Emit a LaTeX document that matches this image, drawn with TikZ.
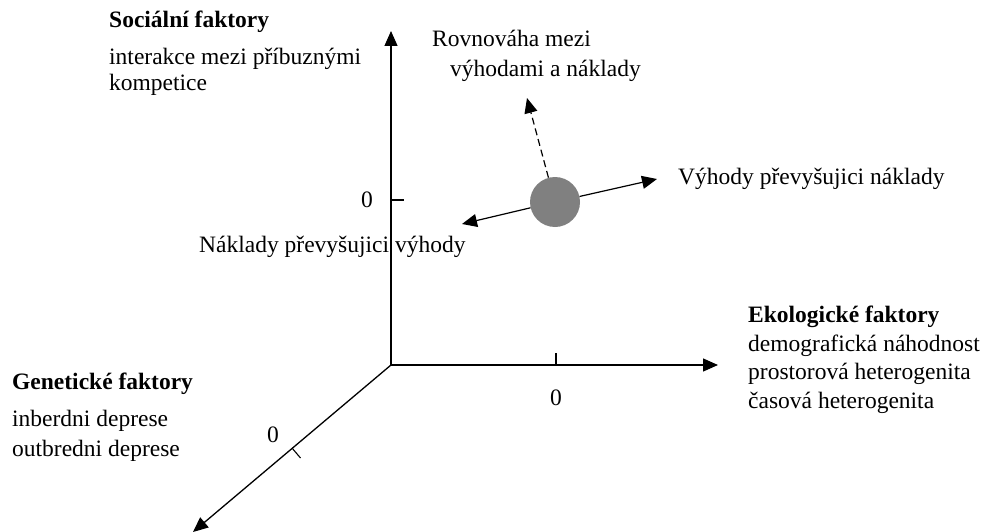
\documentclass[tikz,border=0pt]{standalone}
\usepackage{fontspec}
\setmainfont{Liberation Serif}
\usetikzlibrary{arrows.meta}

\begin{document}
\begin{tikzpicture}[x=1pt, y=-1pt, font=\fontsize{23.5}{28}\selectfont,
	axis/.style={line width=1.3pt, -{Triangle[width=13pt, length=15pt]}},
	tickmark/.style={line width=1.1pt},
	txt/.style={anchor=base west, inner sep=0pt},
	listtxt/.style={txt, align=left},
	zero/.style={inner sep=0pt}]
	\useasboundingbox (0, 0) rectangle (987, 532);
	% Axes and ticks:
	\coordinate (O) at (391, 365);
	\coordinate (social) at (391, 31);
	\coordinate (eco) at (718, 365);
	\coordinate (gen) at (193, 532);
	\draw[axis] (O) -- (social);
	\draw[axis] (O) -- (eco);
	\draw[axis] (O) -- (gen);
	\draw[tickmark] (391, 200) -- (404, 200);
	\draw[tickmark] (556, 365) -- (556, 353);
	\draw[tickmark] (292, 448) -- (300.5, 458);
	\node[zero] (zs) at (367, 200) {0};
	\node[zero] (ze) at (556, 398) {0};
	\node[zero] (zg) at (273, 435) {0};
	% Factors (a list node sits on the baseline of its last line):
	\node[txt] (sochead) at (109, 28) {\textbf{Sociální faktory}};
	\node[listtxt, font=\fontsize{23.5}{26}\selectfont] (soclist) at (109, 91) {interakce mezi příbuznými\\kompetice};
	\node[txt] (genhead) at (12, 389) {\textbf{Genetické faktory}};
	\node[listtxt, font=\fontsize{23.5}{30}\selectfont] (genlist) at (12, 456) {inberdni deprese\\outbredni deprese};
	\node[txt] (ecohead) at (748, 322) {\textbf{Ekologické faktory}};
	\node[listtxt, font=\fontsize{23.5}{28.5}\selectfont] (ecolist) at (748, 408) {demografická náhodnost\\prostorová heterogenita\\časová heterogenita};
	% Balance of benefits and costs:
	\node[circle, fill=gray, minimum size=50pt, inner sep=0pt] (ball) at (555, 202) {};
	\coordinate (gain) at (657, 179);
	\coordinate (loss) at (462, 224);
	\coordinate (even) at (527, 98);
	\draw[axis, line width=1.2pt] (ball) -- (gain);
	\draw[axis, line width=1.2pt] (ball) -- (loss);
	\draw[axis, line width=1.2pt, dash pattern=on 7pt off 4pt] (ball) -- (even);
	\node[txt] (gaintxt) at (678, 184) {Výhody převyšujici náklady};
	\node[txt] (losstxt) at (199, 252) {Náklady převyšujici výhody};
	\node[txt] (eventxt) at (432, 47) {Rovnováha mezi};
	\node[txt] (eventxt2) at (450, 77) {výhodami a náklady};
\end{tikzpicture}
\end{document}
